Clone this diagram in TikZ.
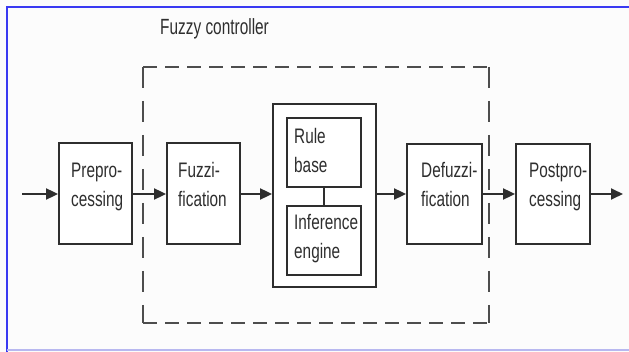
\documentclass[tikz,border=0pt]{standalone}
\usepackage{fontspec}
\setmainfont{Liberation Sans}
\usetikzlibrary{arrows.meta}
% narrow two-line labels in the block diagram
\newcommand\blocklabel[1]{\scalebox{0.73}[1]{\fontsize{21}{29}\selectfont\begin{tabular}[t]{@{}l@{}}#1\end{tabular}}}
\definecolor{ink}{HTML}{2E2E2E}
\definecolor{frameblue}{HTML}{3A3AF2}
\definecolor{framelight}{HTML}{B8B8F0}
\begin{document}
\begin{tikzpicture}[x=1pt,y=-1pt,
  blk/.style={draw=ink,line width=1.8pt,fill=white,inner sep=0pt},
  lbl/.style={anchor=base west,inner sep=0pt,text=ink},
  arr/.style={draw=ink,line width=1.8pt,-{Triangle[length=12pt,width=11pt]}},
  link/.style={draw=ink,line width=1.8pt},
  hdash/.style={draw=ink!85,line width=1.5pt,dash pattern=on 14pt off 8pt},
  vdash/.style={draw=ink!85,line width=1.5pt,dash pattern=on 21pt off 13pt}]
\useasboundingbox (0,0) rectangle (629,352);
\fill[white!99!black] (0,0) rectangle (629,352);
% window frame
\draw[frameblue,line width=2pt] (7,352) -- (7,7) -- (629,7);
\draw[framelight,line width=1.2pt] (7,350) -- (629,350);

% controller boundary
\coordinate (dtl) at (143,67);
\coordinate (dtr) at (489,67);
\coordinate (dbl) at (143,323);
\coordinate (dbr) at (489,323);
\draw[hdash] (dtl) -- (dtr);
\draw[hdash] (dbl) -- (dbr);
\draw[vdash] (dtl) -- (dbl);
\draw[vdash] (dtr) -- (dbr);
\node[anchor=base west,inner sep=0pt,text=ink] (title) at (160,35)
  {\scalebox{0.7}[1]{\fontsize{22}{26}\selectfont Fuzzy controller}};

% blocks
\node[blk,minimum width=73pt,minimum height=101pt] (pre) at (95.5,193.5) {};
\node[blk,minimum width=73pt,minimum height=101pt] (fuz) at (203.5,193.5) {};
\node[blk,minimum width=103pt,minimum height=183pt] (kb) at (324.5,195.5) {};
\node[blk,minimum width=74pt,minimum height=69pt] (rule) at (324,152.5) {};
\node[blk,minimum width=74pt,minimum height=69pt] (inf) at (324,240.5) {};
\node[blk,minimum width=75pt,minimum height=100pt] (def) at (444.5,194) {};
\node[blk,minimum width=74pt,minimum height=100pt] (post) at (553,194) {};

% block texts
\node[lbl] (pre-t) at (71,178) {\blocklabel{Prepro-\\cessing}};
\node[lbl] (fuz-t) at (178,178) {\blocklabel{Fuzzi-\\fication}};
\node[lbl] (rule-t) at (294,144) {\blocklabel{Rule\\base}};
\node[lbl] (inf-t) at (294,230) {\blocklabel{Inference\\engine}};
\node[lbl] (def-t) at (421,178) {\blocklabel{Defuzzi-\\fication}};
\node[lbl] (post-t) at (529,178) {\blocklabel{Postpro-\\cessing}};

% signal flow
\coordinate (in) at (22,194);
\coordinate (out) at (623,194);
\draw[arr] (in) -- (in -| pre.west);
\draw[arr] (pre.east |- in) -- (in -| fuz.west);
\draw[arr] (fuz.east |- in) -- (in -| kb.west);
\draw[arr] (kb.east |- in) -- (in -| def.west);
\draw[arr] (def.east |- in) -- (in -| post.west);
\draw[arr] (post.east |- in) -- (out);
\draw[link] (rule.south) -- (inf.north);
\end{tikzpicture}
\end{document}
